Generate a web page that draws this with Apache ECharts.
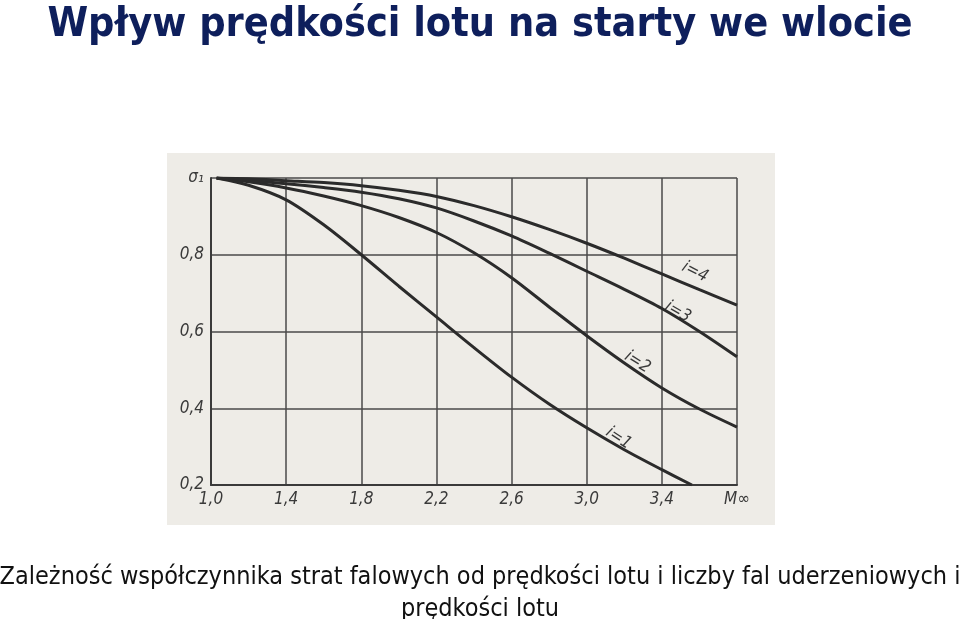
<!DOCTYPE html>
<html>
<head>
<meta charset="utf-8">
<script src="https://cdn.jsdelivr.net/npm/echarts@6/dist/echarts.min.js"></script>
<style>
html,body{margin:0;padding:0;background:#ffffff;}
#chart{width:960px;height:619px;}
</style>
</head>
<body>
<div id="chart"></div>
<script>
// ---- data ----
const titleText = 'Wpływ prędkości lotu na starty we wlocie';
const captionText = 'Zależność współczynnika strat falowych od prędkości lotu i liczby fal uderzeniowych i\nprędkości lotu';
const xTicks = [1.0, 1.4, 1.8, 2.2, 2.6, 3.0, 3.4, 3.8];
const xAxisName = 'M∞';
const yAxisName = 'σ₁';
const seriesNames = ['i=1', 'i=2', 'i=3', 'i=4'];
const curveI1 = [[1.03,1.0],[1.2,0.981],[1.4,0.943],[1.6,0.878],[1.8,0.800],[2.0,0.718],[2.2,0.638],[2.4,0.558],[2.6,0.481],[2.8,0.411],[3.0,0.349],[3.2,0.292],[3.4,0.240],[3.56,0.2]];
const curveI2 = [[1.03,1.0],[1.2,0.990],[1.4,0.974],[1.6,0.953],[1.8,0.928],[2.0,0.897],[2.2,0.858],[2.4,0.805],[2.6,0.740],[2.8,0.664],[3.0,0.589],[3.2,0.518],[3.4,0.453],[3.6,0.398],[3.8,0.351]];
const curveI3 = [[1.03,1.0],[1.2,0.994],[1.4,0.985],[1.6,0.975],[1.8,0.963],[2.0,0.946],[2.2,0.922],[2.4,0.888],[2.6,0.849],[2.8,0.804],[3.0,0.757],[3.2,0.710],[3.4,0.660],[3.6,0.600],[3.8,0.534]];
const curveI4 = [[1.03,1.0],[1.2,0.998],[1.4,0.993],[1.6,0.988],[1.8,0.980],[2.0,0.968],[2.2,0.952],[2.4,0.928],[2.6,0.899],[2.8,0.866],[3.0,0.830],[3.2,0.791],[3.4,0.750],[3.6,0.709],[3.8,0.669]];
const curves = [curveI1, curveI2, curveI3, curveI4];
const labelAnchors = [[3.17,0.322],[3.27,0.52],[3.485,0.651],[3.576,0.755]];
const labelAngles = [-33, -32, -30, -27];

// ---- chart ----
const chart = echarts.init(document.getElementById('chart'), null, {renderer:'canvas'});
const axisFont = '"Liberation Sans Narrow", "DejaVu Sans Condensed", sans-serif';
const fmt = v => v.toFixed(1).replace('.', ',');

const series = curves.map((c, k) => ({
  name: seriesNames[k],
  type: 'line',
  data: c,
  smooth: 0.3,
  showSymbol: false,
  symbol: 'none',
  lineStyle: {color: '#2b2b2b', width: 3},
  z: 5,
  markPoint: {
    symbol: 'circle', symbolSize: 0,
    data: [{coord: labelAnchors[k], value: seriesNames[k]}],
    label: {
      show: true, formatter: seriesNames[k], rotate: labelAngles[k],
      fontFamily: axisFont, fontStyle: 'italic', fontSize: 17, color: '#3a3a3a'
    }
  }
}));

chart.setOption({
  animation: false,
  backgroundColor: '#ffffff',
  title: [{
    text: titleText,
    left: 'center', top: 0,
    textStyle: {fontFamily: axisFont, fontWeight: 'bold', fontSize: 41, color: '#0e1f5c'}
  }, {
    text: captionText,
    left: 'center', top: 556,
    textStyle: {fontFamily: axisFont, fontWeight: 'normal', fontSize: 25, color: '#111111', lineHeight: 32}
  }],
  graphic: [{
    type: 'rect', z: -10, silent: true,
    shape: {x: 167, y: 153, width: 608, height: 372},
    style: {fill: '#eeece7'}
  }],
  grid: {left: 211, top: 178, width: 526, height: 307, containLabel: false},
  xAxis: {
    type: 'value', min: xTicks[0], max: xTicks[xTicks.length-1], interval: 0.4,
    axisLine: {show: true, lineStyle: {color: '#3a3a3a', width: 2}},
    axisTick: {show: false},
    splitLine: {show: true, lineStyle: {color: '#4a4a4a', width: 1.5}},
    axisLabel: {
      formatter: v => Math.abs(v - xTicks[xTicks.length-1]) < 1e-6 ? xAxisName : fmt(v),
      fontFamily: axisFont, fontStyle: 'italic', fontSize: 17, color: '#3a3a3a', margin: 6,
      showMaxLabel: true, showMinLabel: true
    }
  },
  yAxis: {
    type: 'value', min: 0.2, max: 1.0, interval: 0.2,
    axisLine: {show: true, lineStyle: {color: '#3a3a3a', width: 2}},
    axisTick: {show: false},
    splitLine: {show: true, lineStyle: {color: '#4a4a4a', width: 1.5}},
    axisLabel: {
      formatter: v => Math.abs(v - 1.0) < 1e-6 ? yAxisName : fmt(v),
      fontFamily: axisFont, fontStyle: 'italic', fontSize: 17, color: '#3a3a3a', margin: 7
    }
  },
  series: series
});
</script>
</body>
</html>
